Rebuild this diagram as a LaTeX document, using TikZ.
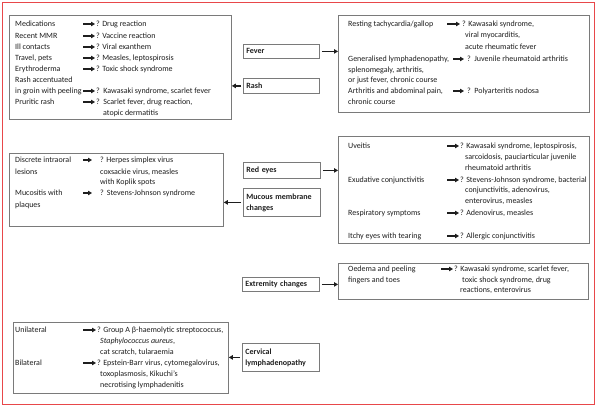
\documentclass[tikz,border=0pt]{standalone}
\usepackage{fontspec}
\setmainfont{Carlito}
\usetikzlibrary{arrows.meta}
\definecolor{boxgray}{HTML}{7A7A7A}
\definecolor{framered}{HTML}{E8474A}
\definecolor{ink}{HTML}{1E1E1E}
\begin{document}
\begin{tikzpicture}[x=1pt,y=-1pt,
 box/.style={draw=boxgray,line width=0.8pt,fill=white,inner sep=0pt,anchor=north west},
 lbl/.style={draw=boxgray,line width=0.8pt,anchor=north west,align=left,inner xsep=3pt,inner ysep=0pt,font=\fontsize{8}{11}\selectfont\bfseries,text=ink},
 t/.style={anchor=west,inner sep=0pt,font=\fontsize{8}{11}\selectfont,text=ink},
 sarr/.style={-{Triangle[length=4pt,width=4.4pt]},line width=1.3pt,draw=ink},
]
\useasboundingbox (0,0) rectangle (597,407);
\draw[framered,line width=1pt] (2,2) rectangle (594,404);

% ---------- boxes ----------
\node[box,minimum width=222pt,minimum height=104pt] (rashbox) at (9,15) {};
\node[box,minimum width=251pt,minimum height=97pt] (feverbox) at (338,15) {};
\node[box,minimum width=214pt,minimum height=73pt] (mucbox) at (9,153) {};
\node[box,minimum width=251pt,minimum height=107pt] (redbox) at (338,136) {};
\node[box,minimum width=250pt,minimum height=36pt] (extbox) at (338,263) {};
\node[box,minimum width=215pt,minimum height=71pt] (cervbox) at (13,322) {};

% ---------- central labels ----------
\node[lbl,text width=70pt,minimum height=14pt] (fever) at (243,44) {Fever};
\node[lbl,text width=70pt,minimum height=15pt] (rash) at (243,78) {Rash};
\node[lbl,text width=71pt,minimum height=16pt] (redeyes) at (243,162) {Red eyes};
\node[lbl,text width=71pt,minimum height=28pt] (mucous) at (243,188) {Mucous membrane\\changes};
\node[lbl,text width=71pt,minimum height=14pt] (extremity) at (242,277) {Extremity changes};
\node[lbl,text width=71pt,minimum height=28pt] (cervical) at (242,343) {Cervical\\lymphadenopathy};

% ---------- connectors ----------
\draw[sarr,shorten <=2pt] (fever.east) -- (fever.east -| feverbox.west);
\draw[sarr,shorten <=2pt] (rash.west) -- (rash.west -| rashbox.east);
\draw[sarr,shorten <=2pt] (redeyes.east) -- (redeyes.east -| redbox.west);
\draw[sarr,shorten <=2pt] (mucous.west) -- (mucous.west -| mucbox.east);
\draw[sarr,shorten <=2pt] (extremity.east) -- (extremity.east -| extbox.west);
\draw[sarr,shorten <=2pt] (cervical.west) -- (cervical.west -| cervbox.east);

% ---------- Rash box ----------
\node[t] at (15,24) {Medications};
\node[t] (ra1) at (96,24) {? Drug reaction};
\node[t] at (15,36) {Recent MMR};
\node[t] (ra2) at (96,36) {? Vaccine reaction};
\node[t] at (15,47) {Ill contacts};
\node[t] (ra3) at (96,47) {? Viral exanthem};
\node[t] at (15,58) {Travel, pets};
\node[t] (ra4) at (96,58) {? Measles, leptospirosis};
\node[t] at (15,69) {Erythroderma};
\node[t] (ra5) at (96,69) {? Toxic shock syndrome};
\node[t] at (15,80) {Rash accentuated};
\node[t] at (15,91) {in groin with peeling};
\node[t] (ra6) at (96,91) {?\hspace{3.5pt}Kawasaki syndrome, scarlet fever};
\node[t] at (15,102) {Pruritic rash};
\node[t] (ra7) at (96,102) {?\hspace{3.5pt}Scarlet fever, drug reaction,};
\node[t] at (103,113) {atopic dermatitis};
\foreach \n in {ra1,ra2,ra3,ra4,ra5,ra6,ra7}
  \draw[sarr] ([xshift=-13pt]\n.west) -- ([xshift=-1pt]\n.west);

% ---------- Fever box ----------
\node[t] at (348,24) {Resting tachycardia/gallop};
\node[t] (fe1) at (462,24) {? Kawasaki syndrome,};
\node[t] at (465,35) {viral myocarditis,};
\node[t] at (465,47) {acute rheumatic fever};
\node[t] at (348,59) {Generalised lymphadenopathy,};
\node[t] (fe2) at (467,59) {?\hspace{3.5pt}Juvenile rheumatoid arthritis};
\node[t] at (348,70) {splenomegaly, arthritis,};
\node[t] at (348,80) {or just fever, chronic course};
\node[t] at (348,91) {Arthritis and abdominal pain,};
\node[t] (fe3) at (467,91) {?\hspace{3.5pt}Polyarteritis nodosa};
\node[t] at (348,102) {chronic course};
\draw[sarr] ([xshift=-15pt]fe1.west) -- ([xshift=-2pt]fe1.west);
\draw[sarr] ([xshift=-14pt]fe2.west) -- ([xshift=-3pt]fe2.west);
\draw[sarr] ([xshift=-14pt]fe3.west) -- ([xshift=-3pt]fe3.west);

% ---------- Mucous membrane box ----------
\node[t] at (15,160) {Discrete intraoral};
\node[t] (mu1) at (100,160) {? Herpes simplex virus};
\node[t] at (15,172) {lesions};
\node[t] at (100,172) {coxsackie virus, measles};
\node[t] at (100,182) {with Koplik spots};
\node[t] at (15,193) {Mucositis with};
\node[t] (mu2) at (100,193) {?\hspace{3pt}Stevens-Johnson syndrome};
\node[t] at (15,205) {plaques};
\draw[sarr] ([xshift=-17pt]mu1.west) -- ([xshift=-8pt]mu1.west);
\draw[sarr] ([xshift=-17pt]mu2.west) -- ([xshift=-8pt]mu2.west);

% ---------- Red eyes box ----------
\node[t] at (348,146) {Uveitis};
\node[t] (re1) at (460,146) {? Kawasaki syndrome, leptospirosis,};
\node[t] at (465,157) {sarcoidosis, pauciarticular juvenile};
\node[t] at (465,168) {rheumatoid arthritis};
\node[t] at (348,180) {Exudative conjunctivitis};
\node[t] (re2) at (460,180) {? Stevens-Johnson syndrome, bacterial};
\node[t] at (465,190) {conjunctivitis, adenovirus,};
\node[t] at (465,201) {enterovirus, measles};
\node[t] at (348,213) {Respiratory symptoms};
\node[t] (re3) at (460,213) {? Adenovirus, measles};
\node[t] at (348,236) {Itchy eyes with tearing};
\node[t] (re4) at (460,236) {? Allergic conjunctivitis};
\foreach \n in {re1,re2,re3,re4}
  \draw[sarr] ([xshift=-13pt]\n.west) -- ([xshift=-1pt]\n.west);

% ---------- Extremity box ----------
\node[t] at (348,269) {Oedema and peeling};
\node[t] (ex1) at (454,269) {? Kawasaki syndrome, scarlet fever,};
\node[t] at (348,280) {fingers and toes};
\node[t] at (462,280) {toxic shock syndrome, drug};
\node[t] at (460,290) {reactions, enterovirus};
\draw[sarr] ([xshift=-13pt]ex1.west) -- ([xshift=-1pt]ex1.west);

% ---------- Cervical box ----------
\node[t] at (15,330) {Unilateral};
\node[t] (ce1) at (97,330) {? Group A β-haemolytic streptococcus,};
\node[t] at (100,341) {\itshape Staphylococcus aureus\upshape,};
\node[t] at (100,352) {cat scratch, tularaemia};
\node[t] at (15,363) {Bilateral};
\node[t] (ce2) at (97,363) {? Epstein-Barr virus, cytomegalovirus,};
\node[t] at (100,374) {toxoplasmosis, Kikuchi's};
\node[t] at (100,385) {necrotising lymphadenitis};
\foreach \n in {ce1,ce2}
  \draw[sarr] ([xshift=-14pt]\n.west) -- ([xshift=-1pt]\n.west);
\end{tikzpicture}
\end{document}
